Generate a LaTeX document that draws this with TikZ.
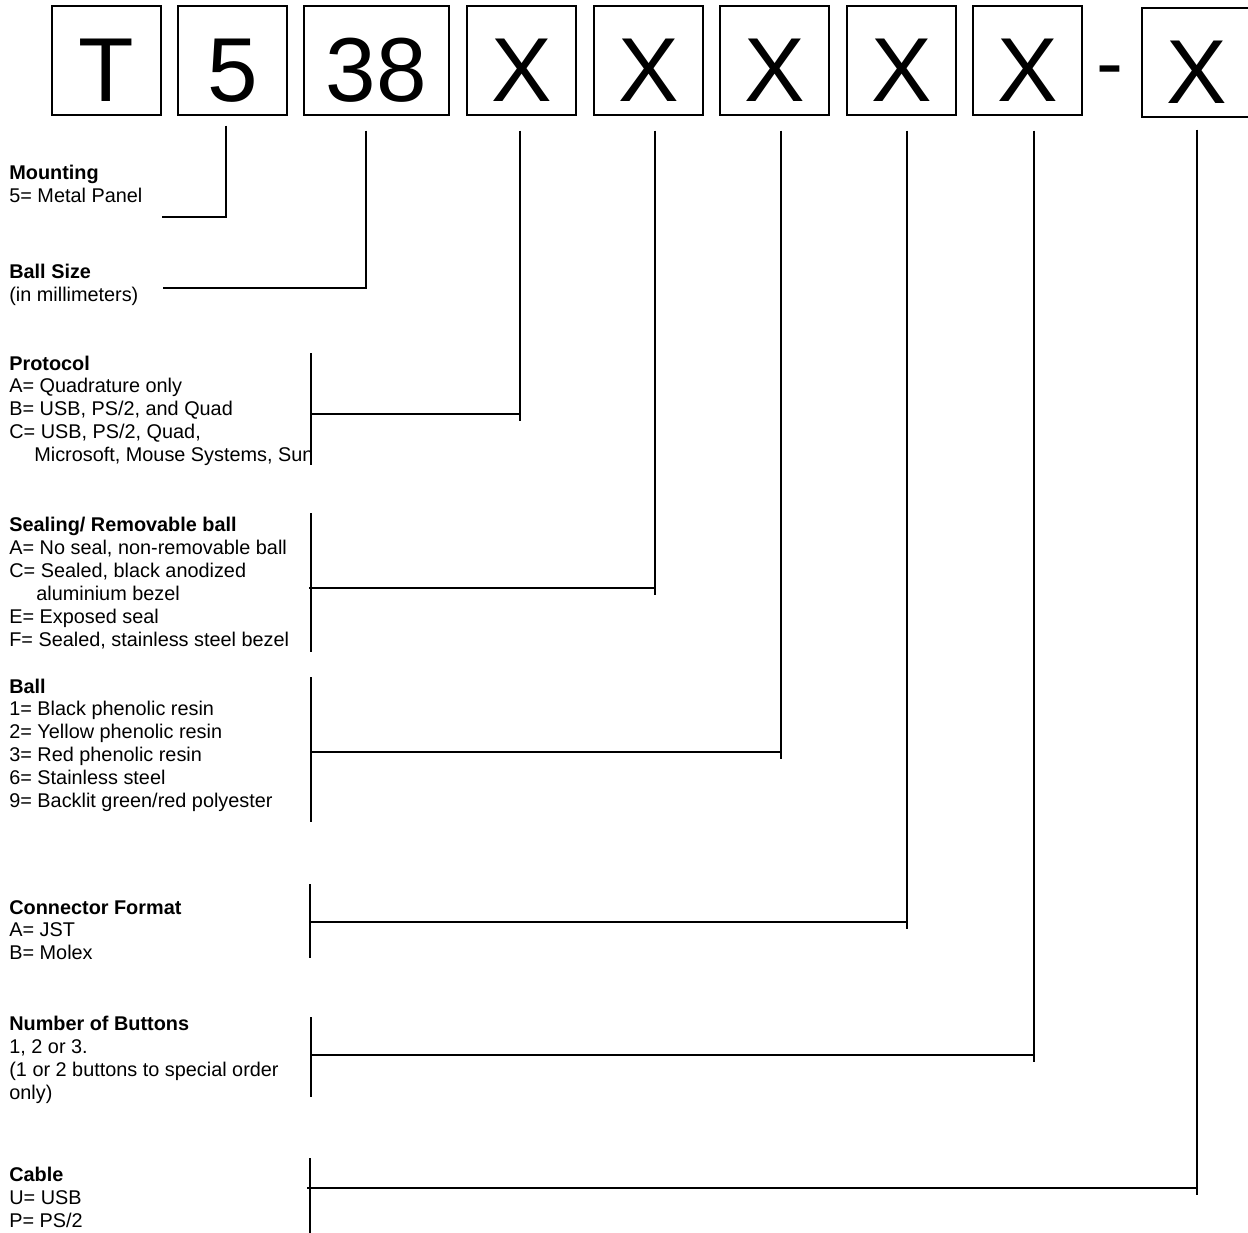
\documentclass[tikz,border=0pt]{standalone}
\usepackage{fontspec}
\setmainfont{Liberation Sans}
\usepackage{tikz}
\newcommand{\keylist}[1]{\begin{tabular}[t]{@{}l@{}}#1\end{tabular}}

\begin{document}
\begin{tikzpicture}[x=0.02cm,y=-0.02cm,
    field/.style={draw,line width=0.75pt,inner sep=0pt,minimum width=2.18cm,
      text height=1.9cm,text depth=0.28cm,font=\fontsize{51.7}{60}\selectfont},
    legend/.style={anchor=base west,inner sep=0pt,font=\fontsize{11.3}{13.04}\selectfont},
    lead/.style={line width=0.9pt},
    tie/.style={line width=1.2pt}]
  \useasboundingbox (0,0) rectangle (1248,1232);
  \node[field] (fT) at (106.5,60.5) {T};
  \node[field] (fMount) at (232.5,60.5) {5};
  \node[field,minimum width=2.9cm] (fSize) at (376.5,60.5) {38};
  \node[field] (fProto) at (521.5,60.5) {X};
  \node[field] (fSeal) at (648.5,60.5) {X};
  \node[field] (fBall) at (774.5,60.5) {X};
  \node[field] (fConn) at (901.5,60.5) {X};
  \node[field] (fBtn) at (1027.5,60.5) {X};
  \node[anchor=base,inner sep=0pt,font=\fontsize{46}{54}\selectfont] (dash) at (1110,90) {-};
  \node[field] (fCable) at (1196.5,62.5) {X};

  \node[legend] (lMount) at (9,179.3) {\keylist{\textbf{Mounting}\\5= Metal Panel}};
  \node[legend] (lSize) at (9,278.3) {\keylist{\textbf{Ball Size}\\(in millimeters)}};
  \node[legend] (lProto) at (9,370) {\keylist{\textbf{Protocol}\\A= Quadrature only\\
    B= USB, PS/2, and Quad\\C= USB, PS/2, Quad,\\\hspace{0.5cm}Microsoft, Mouse Systems, Sun}};
  \node[legend] (lSeal) at (9,531.7) {\keylist{\textbf{Sealing/ Removable ball}\\
    A= No seal, non-removable ball\\C= Sealed, black anodized\\\hspace{0.54cm}aluminium bezel\\
    E= Exposed seal\\F= Sealed, stainless steel bezel}};
  \node[legend] (lBall) at (9,693) {\keylist{\textbf{Ball}\\1= Black phenolic resin\\
    2= Yellow phenolic resin\\3= Red phenolic resin\\6= Stainless steel\\
    9= Backlit green/red polyester}};
  \node[legend] (lConn) at (9,914) {\keylist{\textbf{Connector Format}\\A= JST\\B= Molex}};
  \node[legend] (lBtn) at (9,1030.7) {\keylist{\textbf{Number of Buttons}\\1, 2 or 3.\\
    (1 or 2 buttons to special order\\only)}};
  \node[legend] (lCable) at (9,1181.7) {\keylist{\textbf{Cable}\\U= USB\\P= PS/2}};

  \coordinate (mEnd) at (162,217);
  \coordinate (zEnd) at (163,288);
  \path (311,353) coordinate (pTop) (311,465) coordinate (pBot) (311,414) coordinate (pMid);
  \path (311,513) coordinate (sTop) (311,652) coordinate (sBot) (309,588) coordinate (sMid);
  \path (311,677) coordinate (bTop) (311,822) coordinate (bBot) (311,752) coordinate (bMid);
  \path (310,884) coordinate (cTop) (310,958) coordinate (cBot) (310,922) coordinate (cMid);
  \path (311,1017) coordinate (nTop) (311,1097) coordinate (nBot) (311,1055) coordinate (nMid);
  \path (310,1158) coordinate (kTop) (310,1236) coordinate (kBot) (307,1188) coordinate (kMid);

  \draw[lead] (fMount.south) ++(-6.5,10) |- (mEnd);
  \draw[lead] (fSize.south) ++(-10.5,15) |- (zEnd);
  \foreach \g in {p,s,b,c,n,k}
    \draw[lead] (\g Top) -- (\g Bot);
  \foreach \f/\dx/\dy/\g in {fProto/-1.5/15/p,fSeal/6.5/15/s,fBall/6.5/15/b,
      fConn/5.5/15/c,fBtn/6.5/15/n,fCable/0.5/12/k} {
    \draw[lead] (\f.south) ++(\dx,\dy) coordinate (top) -- (top |- \g Mid) -- ++(0,7);
    \draw[tie] (\g Mid) -- (top |- \g Mid);
  }
\end{tikzpicture}
\end{document}
